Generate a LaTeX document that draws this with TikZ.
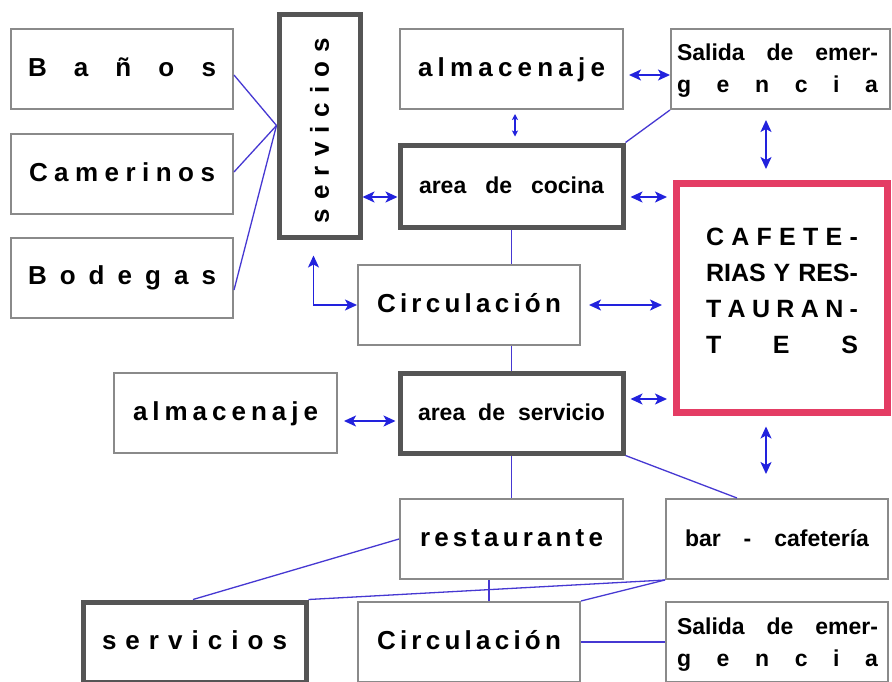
\documentclass[tikz,border=0pt]{standalone}
\usepackage{fontspec}
\usepackage{graphicx}
\setmainfont{Liberation Sans}
\usetikzlibrary{calc,arrows.meta}
\definecolor{thingray}{RGB}{138,138,138}
\definecolor{thickgray}{RGB}{85,85,85}
\definecolor{pinkred}{RGB}{228,60,100}
\definecolor{linkblue}{RGB}{70,56,210}
\definecolor{arrblue}{RGB}{34,34,221}
\newcommand{\sprd}[2]{\makebox[#1][s]{#2}}
\tikzset{
  basebox/.style={draw=thingray, line width=2pt, minimum width=222pt, minimum height=80pt, inner sep=0pt},
  plainbox/.style={basebox, font=\fontsize{26}{30}\selectfont\bfseries, text height=19pt, text depth=5pt},
  heavybox/.style={plainbox, draw=thickgray, line width=5pt},
  smallfont/.style={font=\fontsize{23}{30}\selectfont\bfseries},
  link/.style={draw=linkblue, line width=1.3pt},
  biarrow/.style={draw=arrblue, line width=1.5pt, {Stealth[length=12pt,width=11pt,inset=3pt]}-{Stealth[length=12pt,width=11pt,inset=3pt]}},
  minarrow/.style={draw=arrblue, line width=1.1pt, {Stealth[length=6pt,width=6pt,inset=1.5pt]}-{Stealth[length=6pt,width=6pt,inset=1.5pt]}},
  txt/.style={inner sep=0pt, anchor=base}
}
\begin{document}
\begin{tikzpicture}[x=1pt,y=-1pt]
\useasboundingbox (0,0) rectangle (892,681);
\fill[white] (0,0) rectangle (892,681);
\clip (0,0) rectangle (892,681);

% left column
\node[plainbox] (banos) at (122,69) {\sprd{188pt}{B\hfill a\hfill ñ\hfill o\hfill s}};
\node[plainbox] (camer) at (122,174) {\sprd{186pt}{C\hfill a\hfill m\hfill e\hfill r\hfill i\hfill n\hfill o\hfill s}};
\node[plainbox] (bodeg) at (122,277.5) {\sprd{188pt}{B\hfill o\hfill d\hfill e\hfill g\hfill a\hfill s}};

% vertical servicios
\node[basebox, draw=thickgray, line width=5pt, minimum width=81pt, minimum height=223pt,
      font=\fontsize{26}{30}\selectfont\bfseries] (servA) at (319.5,125.5)
  {\rotatebox{90}{\sprd{185pt}{s\hfill e\hfill r\hfill v\hfill i\hfill c\hfill i\hfill o\hfill s}\hspace{10pt}}};

% top middle / right
\node[plainbox, minimum width=223pt] (almA) at (511.5,69) {\sprd{187pt}{a\hfill l\hfill m\hfill a\hfill c\hfill e\hfill n\hfill a\hfill j\hfill e}};
\node[basebox, minimum width=219pt] (salidaA) at (780.5,69) {};
\node[txt] (salidaAt) at ($(salidaA.center)+(-3,-9)$)
  {\parbox[t]{201pt}{\fontsize{23}{32}\selectfont\bfseries\sprd{201pt}{Salida\hfill de\hfill emer-}\\\sprd{201pt}{g\hfill e\hfill n\hfill c\hfill i\hfill a}}};

\node[heavybox, smallfont, minimum width=223pt, minimum height=82pt] (cocina) at (511.5,186) {\sprd{185pt}{area\hfill de\hfill cocina}\hspace{8pt}};

\node[draw=pinkred, line width=7pt, minimum width=211pt, minimum height=229pt, inner sep=0pt] (cafe) at (782,298) {};
\node[txt] (cafet) at ($(cafe.center)+(0,-53)$)
  {\parbox[t]{152pt}{\fontsize{25}{36}\selectfont\bfseries
   \sprd{152pt}{C\hfill A\hfill F\hfill E\hfill T\hfill E\hfill -}\\
   \sprd{152pt}{RIAS\hfill Y\hfill RES-}\\
   \sprd{152pt}{T\hfill A\hfill U\hfill R\hfill A\hfill N\hfill -}\\
   \sprd{152pt}{T\hfill E\hfill S}}};

\node[plainbox] (circA) at (469,305) {\sprd{184pt}{C\hfill i\hfill r\hfill c\hfill u\hfill l\hfill a\hfill c\hfill i\hfill ó\hfill n}};

\node[heavybox, smallfont, minimum width=223pt] (servicio) at (511.5,413) {\sprd{187pt}{area\hfill de\hfill servicio}\hspace{10pt}};
\node[plainbox, minimum width=223pt] (almB) at (225.5,413) {\sprd{185pt}{a\hfill l\hfill m\hfill a\hfill c\hfill e\hfill n\hfill a\hfill j\hfill e}};

\node[plainbox, minimum width=223pt] (rest) at (511.5,539) {\sprd{183pt}{r\hfill e\hfill s\hfill t\hfill a\hfill u\hfill r\hfill a\hfill n\hfill t\hfill e}\hspace{6pt}};
\node[plainbox, smallfont] (bar) at (777,539) {\sprd{184pt}{bar\hfill -\hfill cafetería}\hspace{6pt}};

\node[heavybox, minimum width=223pt] (servB) at (194.5,642) {\sprd{185pt}{s\hfill e\hfill r\hfill v\hfill i\hfill c\hfill i\hfill o\hfill s}};
\node[plainbox] (circB) at (469,642) {\sprd{184pt}{C\hfill i\hfill r\hfill c\hfill u\hfill l\hfill a\hfill c\hfill i\hfill ó\hfill n}};
\node[basebox] (salidaB) at (777,642) {};
\node[txt] (salidaBt) at ($(salidaB.center)+(0.5,-8)$)
  {\parbox[t]{201pt}{\fontsize{23}{32}\selectfont\bfseries\sprd{201pt}{Salida\hfill de\hfill emer-}\\\sprd{201pt}{g\hfill e\hfill n\hfill c\hfill i\hfill a}}};

% connectors
\draw[link] ($(banos.east)+(0,6)$) -- (servA.west);
\draw[link] ($(camer.east)+(0,-2)$) -- (servA.west);
\draw[link] ($(bodeg.east)+(0,12.5)$) -- (servA.west);

\draw[biarrow] ($(servA.east)+(0,71.5)$) -- ($(cocina.west)+(0,11)$);
\draw[biarrow] ($(servA.south)+(-6,16)$) |- (circA.west);

\draw[biarrow] ($(almA.east)+(5,6)$) -- ($(salidaA.west)+(0,6)$);
\draw[minarrow] ($(almA.south)+(3.5,4)$) -- ($(cocina.north)+(3.5,-6)$);
\draw[link] (salidaA.south west) -- (cocina.north east);
\draw[biarrow] ($(cocina.east)+(5,11)$) -- ($(cafe.west)+(-6,-101)$);
\draw[biarrow] ($(salidaA.south)+(-14.5,10)$) -- ($(cafe.north)+(-16,-11)$);

\draw[link] (cocina.south) -- (cocina.south |- circA.north);
\draw[biarrow] ($(circA.east)+(8,0)$) -- ($(cafe.west)+(-11,7)$);
\draw[link] (servicio.north |- circA.south) -- (servicio.north);

\draw[biarrow] ($(almB.east)+(6,8)$) -- ($(servicio.west)+(-2,8)$);
\draw[biarrow] ($(servicio.east)+(5,-14)$) -- ($(cafe.west)+(-6,101)$);
\draw[biarrow] ($(cafe.south)+(-16,10.5)$) -- ($(bar.north)+(-11,-24)$);

\draw[link] (servicio.south east) -- ($(bar.north)+(-40,0)$);
\draw[link] (servicio.south) -- (rest.north);
\draw[link] (rest.west) -- ($(servB.north)+(-1.5,0)$);
\draw[link] (bar.south west) -- (servB.north east);
\draw[link] (bar.south west) -- (circB.north east);
\draw[link] ($(rest.south)+(-22.5,0)$) -- ($(circB.north)+(20,0)$);
\draw[link] (circB.east) -- (salidaB.west);
\end{tikzpicture}
\end{document}
